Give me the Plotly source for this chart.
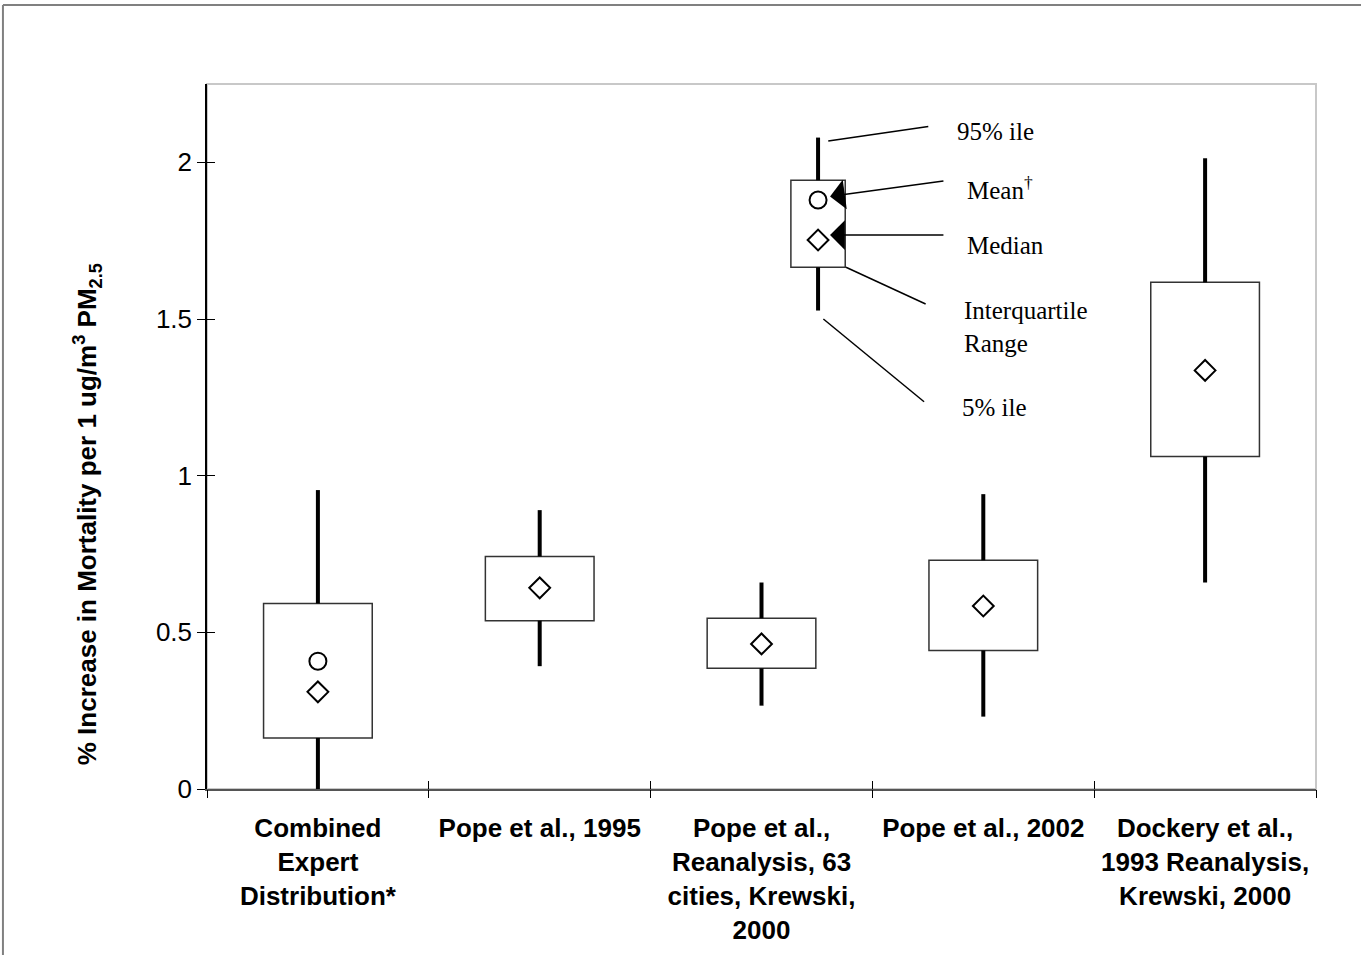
import plotly.graph_objects as go

# ---- data ----
categories = [
    "Combined<br>Expert<br>Distribution*",
    "Pope et al., 1995",
    "Pope et al.,<br>Reanalysis, 63<br>cities, Krewski,<br>2000",
    "Pope et al., 2002",
    "Dockery et al.,<br>1993 Reanalysis,<br>Krewski, 2000",
]
p05 = [0.00, 0.392, 0.266, 0.231, 0.659]
p25 = [0.163, 0.537, 0.385, 0.442, 1.061]
p50 = [0.310, 0.642, 0.463, 0.584, 1.336]
p75 = [0.592, 0.742, 0.545, 0.730, 1.617]
p95 = [0.954, 0.890, 0.659, 0.941, 2.013]
mean_vals = [0.408, None, None, None, None]

# illustrative key box
key_x = 2.255
key_p05, key_p25, key_p50, key_p75, key_p95, key_mean = 1.527, 1.665, 1.752, 1.943, 2.079, 1.880

y_ticks = [0, 0.5, 1, 1.5, 2]
y_ticktext = ["0", "0.5", "1", "1.5", "2"]

positions = list(range(len(categories)))
boundaries = [p - 0.5 for p in positions] + [positions[-1] + 0.5]

SANS = "Liberation Sans, Arial, sans-serif"
SERIF = "Liberation Serif, Times New Roman, serif"

fig = go.Figure()

# whiskers
wx, wy = [], []
for xi, a, b, c, d in zip(positions, p95, p75, p25, p05):
    wx += [xi, xi, None, xi, xi, None]
    wy += [a, b, None, c, d, None]
wx += [key_x, key_x, None, key_x, key_x, None]
wy += [key_p95, key_p75, None, key_p25, key_p05, None]
fig.add_trace(go.Scatter(x=wx, y=wy, mode="lines", line=dict(color="black", width=4),
                         hoverinfo="skip", showlegend=False))

# boxes (interquartile range)
fig.add_trace(go.Bar(x=positions, y=[b - a for a, b in zip(p25, p75)], base=p25, width=0.49,
                     marker=dict(color="white", line=dict(color="#333333", width=1.5)),
                     hoverinfo="skip", showlegend=False))
fig.add_trace(go.Bar(x=[key_x], y=[key_p75 - key_p25], base=[key_p25], width=0.245,
                     marker=dict(color="white", line=dict(color="#333333", width=1.5)),
                     hoverinfo="skip", showlegend=False))

# medians
fig.add_trace(go.Scatter(x=positions + [key_x], y=p50 + [key_p50], mode="markers",
                         marker=dict(symbol="diamond-open", size=16, color="black",
                                     line=dict(width=2, color="black")),
                         hoverinfo="skip", showlegend=False))
# means
mx = [x for x, m in zip(positions, mean_vals) if m is not None] + [key_x]
my = [m for m in mean_vals if m is not None] + [key_mean]
fig.add_trace(go.Scatter(x=mx, y=my, mode="markers",
                         marker=dict(symbol="circle-open", size=17, color="black",
                                     line=dict(width=2, color="black")),
                         hoverinfo="skip", showlegend=False))

# dummy traces to activate overlay tick axes (crossing ticks)
fig.add_trace(go.Scatter(x=[], y=[], xaxis="x2", yaxis="y", showlegend=False, hoverinfo="skip"))
fig.add_trace(go.Scatter(x=[], y=[], xaxis="x3", yaxis="y", showlegend=False, hoverinfo="skip"))
fig.add_trace(go.Scatter(x=[], y=[], xaxis="x", yaxis="y2", showlegend=False, hoverinfo="skip"))

xr = [-0.5, 4.5]
yr = [0, 2.25]

annotations = []
# key labels
for txt, x, y in [("95% ile", 2.872, 2.097), ("Mean<sup>†</sup>", 2.918, 1.918),
                  ("Median", 2.918, 1.736), ("Interquartile<br>Range", 2.904, 1.476),
                  ("5% ile", 2.895, 1.216)]:
    annotations.append(dict(x=x, y=y, xref="x", yref="y", text=txt, showarrow=False,
                             xanchor="left", yanchor="middle", align="left",
                             font=dict(family=SERIF, size=25, color="black")))
# arrows
for hx, hy, tx, ty in [(2.309, 1.891, 2.827, 1.941), (2.309, 1.768, 2.827, 1.768)]:
    annotations.append(dict(x=hx, y=hy, ax=tx, ay=ty, xref="x", yref="y", axref="x", ayref="y",
                            text="", showarrow=True, arrowhead=1, arrowsize=3.3, arrowwidth=1.5,
                            arrowcolor="black"))
# y-axis title
annotations.append(dict(x=-0.108, y=0.39, xref="paper", yref="paper",
                        text="% Increase in Mortality per 1 ug/m<sup>3</sup> PM<sub>2.5</sub>",
                        textangle=-90, showarrow=False, xanchor="center", yanchor="middle",
                        font=dict(family=SANS, size=26, color="black", weight="bold")))

shapes = [
    # plot area frame (light)
    dict(type="rect", xref="paper", yref="paper", x0=0, y0=0, x1=1, y1=1,
         line=dict(color="#c8c8c8", width=2), layer="below"),
    # outer chart frame (top & left visible)
    dict(type="line", xref="paper", yref="paper", x0=-0.184, y0=1.112, x1=1.05, y1=1.112,
         line=dict(color="#808080", width=2)),
    dict(type="line", xref="paper", yref="paper", x0=-0.184, y0=1.112, x1=-0.184, y1=-0.25,
         line=dict(color="#808080", width=2)),
]
# leader lines of the key
for x0, y0, x1, y1 in [(2.301, 2.068, 2.752, 2.114), (2.381, 1.665, 2.740, 1.548),
                       (2.279, 1.500, 2.733, 1.236)]:
    shapes.append(dict(type="line", xref="x", yref="y", x0=x0, y0=y0, x1=x1, y1=y1,
                       line=dict(color="black", width=1.5)))

common_hidden = dict(showticklabels=False, showline=False, showgrid=False, zeroline=False,
                     automargin=False, ticklen=8, tickcolor="black", tickwidth=1)

fig.update_layout(
    width=1361, height=955,
    margin=dict(l=207, r=45, t=84, b=166, autoexpand=False),
    paper_bgcolor="white", plot_bgcolor="white",
    barmode="overlay", showlegend=False,
    xaxis=dict(range=xr, tickvals=positions, ticktext=categories, ticks="",
               tickfont=dict(family=SANS, size=26, color="black", weight="bold"),
               ticklabelstandoff=15, automargin=False,
               showline=True, linecolor="#555555", linewidth=2, showgrid=False, zeroline=False),
    xaxis2=dict(range=xr, overlaying="x", anchor="y", tickvals=boundaries, ticks="outside",
                **common_hidden),
    xaxis3=dict(range=xr, overlaying="x", anchor="y", tickvals=boundaries, ticks="inside",
                **common_hidden),
    yaxis=dict(range=yr, tickvals=y_ticks, ticktext=y_ticktext, ticks="outside", ticklen=8,
               tickcolor="black", tickwidth=1, automargin=False,
               tickfont=dict(family=SANS, size=26, color="black"),
               showline=True, linecolor="black", linewidth=1.5, showgrid=False, zeroline=False),
    yaxis2=dict(range=yr, overlaying="y", anchor="x", tickvals=y_ticks, ticks="inside",
                **common_hidden),
    annotations=annotations,
    shapes=shapes,
)

fig.write_html("out.html", config={"displayModeBar": False},
               post_script="document.body.style.margin='0';document.body.style.overflow='hidden';")
